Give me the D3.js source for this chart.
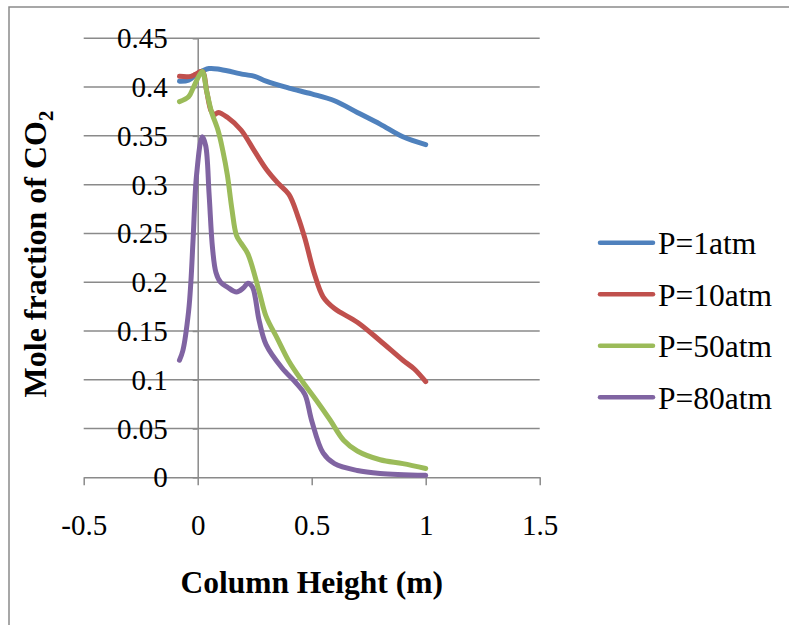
<!DOCTYPE html>
<html><head><meta charset="utf-8">
<script src="https://cdn.jsdelivr.net/npm/d3@7"></script>
<style>body{margin:0;background:#fff}svg{display:block}</style>
</head><body>
<svg id="c" width="789" height="625"></svg>
<script>
const seriesNames = ["P=1atm","P=10atm","P=50atm","P=80atm"];
const seriesColors = ["#4F81BD","#C0504D","#9BBB59","#8064A2"];
const xTicks = [-0.5,0,0.5,1,1.5];
const xTickLabels = ["-0.5","0","0.5","1","1.5"];
const yTicks = [0,0.05,0.1,0.15,0.2,0.25,0.3,0.35,0.4,0.45];
const yTickLabels = ["0","0.05","0.1","0.15","0.2","0.25","0.3","0.35","0.4","0.45"];
const p1 = [[-0.08,0.406],[-0.04,0.407],[0,0.414],[0.05,0.419],[0.1,0.418],[0.2,0.413],[0.25,0.411],[0.3,0.406],[0.4,0.399],[0.5,0.393],[0.6,0.386],[0.7,0.374],[0.8,0.362],[0.9,0.349],[1.0,0.341]];
const p10 = [[-0.08,0.411],[-0.03,0.411],[-0.01,0.413],[0.02,0.416],[0.04,0.395],[0.06,0.375],[0.075,0.372],[0.09,0.374],[0.13,0.369],[0.19,0.356],[0.25,0.334],[0.3,0.316],[0.35,0.302],[0.4,0.29],[0.44,0.267],[0.47,0.245],[0.51,0.21],[0.55,0.185],[0.6,0.173],[0.7,0.159],[0.8,0.14],[0.9,0.12],[0.95,0.111],[1.0,0.098]];
const p50 = [[-0.08,0.385],[-0.04,0.39],[-0.02,0.399],[0.0,0.409],[0.02,0.416],[0.04,0.395],[0.06,0.375],[0.09,0.355],[0.11,0.335],[0.13,0.31],[0.15,0.275],[0.17,0.248],[0.19,0.240],[0.22,0.229],[0.27,0.19],[0.3,0.165],[0.35,0.142],[0.4,0.119],[0.46,0.098],[0.52,0.079],[0.58,0.059],[0.64,0.038],[0.7,0.027],[0.8,0.018],[0.9,0.014],[1.0,0.009]];
const p80 = [[-0.08,0.12],[-0.065,0.13],[-0.04,0.17],[-0.03,0.2],[-0.02,0.245],[-0.005,0.31],[0.02,0.349],[0.035,0.34],[0.05,0.29],[0.065,0.235],[0.08,0.21],[0.1,0.2],[0.13,0.195],[0.17,0.19],[0.2,0.194],[0.22,0.199],[0.24,0.195],[0.27,0.16],[0.3,0.136],[0.37,0.112],[0.43,0.097],[0.47,0.085],[0.5,0.058],[0.55,0.025],[0.6,0.014],[0.7,0.007],[0.8,0.004],[1.0,0.002]];
const seriesData = [p1,p10,p50,p80];

const svg = d3.select("#c");
const font = "'Liberation Serif','Times New Roman',serif";
const grey = "#8a8a8a";
const x = d3.scaleLinear().domain([-0.5,1.5]).range([83.7,539.7]);
const y = d3.scaleLinear().domain([0,0.45]).range([477.3,38.3]);

// outer border (left and top)
svg.append("path").attr("d","M9,625V7H789").attr("fill","none").attr("stroke",grey).attr("stroke-width",1.5);

// horizontal gridlines
svg.append("g").selectAll("line").data(yTicks.filter(d=>d>0)).join("line")
  .attr("x1",x(-0.5)).attr("x2",x(1.5)).attr("y1",d=>y(d)).attr("y2",d=>y(d))
  .attr("stroke",grey).attr("stroke-width",1.5);

// x axis
const xAxis = svg.append("g").attr("transform",`translate(0,${y(0)})`)
  .call(d3.axisBottom(x).tickValues(xTicks).tickSize(8).tickSizeOuter(0).tickFormat((d,i)=>xTickLabels[i]));
xAxis.select(".domain").attr("stroke",grey).attr("stroke-width",1.5);
xAxis.selectAll(".tick line").attr("stroke",grey).attr("stroke-width",1.5);
xAxis.selectAll(".tick text").attr("font-family",font).attr("font-size",29).attr("fill","#000")
  .attr("y",58).attr("dy",0);

// y axis at x=0
const yAxis = svg.append("g").attr("transform",`translate(${x(0)},0)`)
  .call(d3.axisLeft(y).tickValues(yTicks).tickSize(5).tickSizeOuter(0).tickFormat((d,i)=>yTickLabels[i]));
yAxis.select(".domain").attr("stroke",grey).attr("stroke-width",1.5);
yAxis.selectAll(".tick line").attr("stroke",grey).attr("stroke-width",1.5);
yAxis.selectAll(".tick text").attr("font-family",font).attr("font-size",29).attr("fill","#000")
  .attr("x",-30).attr("dy","0.33em");

// series
const line = d3.line().x(d=>x(d[0])).y(d=>y(d[1])).curve(d3.curveCatmullRom.alpha(0.5));
svg.append("g").selectAll("path").data(seriesData).join("path")
  .attr("d",line).attr("fill","none").attr("stroke",(d,i)=>seriesColors[i])
  .attr("stroke-width",5).attr("stroke-linecap","round").attr("stroke-linejoin","round");

// axis titles
svg.append("text").attr("x",x(0.5)).attr("y",593).attr("text-anchor","middle")
  .attr("font-family",font).attr("font-size",31.5).attr("font-weight","bold").text("Column Height (m)");
const yt = svg.append("text").attr("transform",`translate(46,254) rotate(-90)`)
  .attr("text-anchor","middle").attr("font-family",font).attr("font-size",32).attr("font-weight","bold");
yt.append("tspan").text("Mole fraction of CO");
yt.append("tspan").attr("font-size",21).attr("dy",7).text("2");

// legend
const lg = svg.append("g").selectAll("g").data(seriesNames).join("g")
  .attr("transform",(d,i)=>`translate(0,${242.7+i*51.5})`);
lg.append("line").attr("x1",600).attr("x2",653).attr("stroke",(d,i)=>seriesColors[i])
  .attr("stroke-width",4.5).attr("stroke-linecap","round");
lg.append("text").attr("x",658).attr("y",11.5).attr("font-family",font).attr("font-size",31.5)
  .attr("fill","#000").text(d=>d);
</script>
</body></html>
